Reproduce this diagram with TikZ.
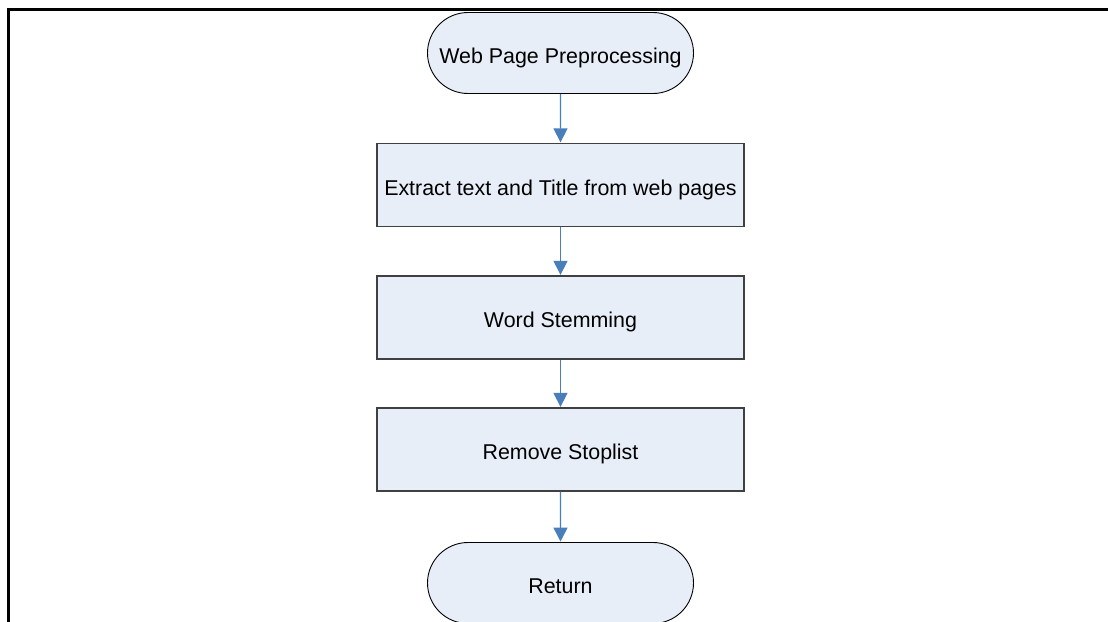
\documentclass[tikz,border=0pt]{standalone}
\usepackage{fontspec}
\setmainfont{Liberation Sans}
\usetikzlibrary{shapes.misc,arrows.meta}
\definecolor{boxfill}{HTML}{E8EEF8}
\definecolor{flowblue}{HTML}{4A7EBB}
\definecolor{boxline}{HTML}{404040}
\tikzset{
  labeltext/.style={font=\fontsize{21.4}{25}\selectfont, text height=22pt, text depth=2pt},
  terminal/.style={rounded rectangle, draw=black, line width=0.9pt, fill=boxfill,
    minimum width=266pt, minimum height=81pt, inner sep=0pt, labeltext},
  process/.style={rectangle, draw=boxline, line width=1.3pt, fill=boxfill,
    minimum width=367pt, minimum height=83pt, inner sep=0pt, labeltext},
  flow/.style={draw=flowblue, line width=1.3pt, -{Triangle[length=14pt,width=14pt]}, shorten >=0.5pt}
}
\begin{document}
\begin{tikzpicture}[x=1pt,y=-1pt]
  \useasboundingbox (0,0) rectangle (1108,621);
  \clip (0,0) rectangle (1108,621);
  \fill[white] (0,0) rectangle (1108,621);
  % outer frame (left and top edges)
  \draw[line width=3pt, line cap=rect] (8,625) -- (8,9) -- (1112,9);
  % flowchart steps
  \node[terminal] (start) at (560.5,53) {Web Page Preprocessing};
  \node[process] (extract) at (560.5,185) {Extract text and Title from web pages};
  \node[process] (stem) at (560.5,317.5) {Word Stemming};
  \node[process] (stop) at (560.5,449.5) {Remove Stoplist};
  \node[terminal] (ret) at (560.5,583) {Return};
  % connectors
  \draw[flow] (start) -- (extract);
  \draw[flow] (extract) -- (stem);
  \draw[flow] (stem) -- (stop);
  \draw[flow] (stop) -- (ret);
\end{tikzpicture}
\end{document}
